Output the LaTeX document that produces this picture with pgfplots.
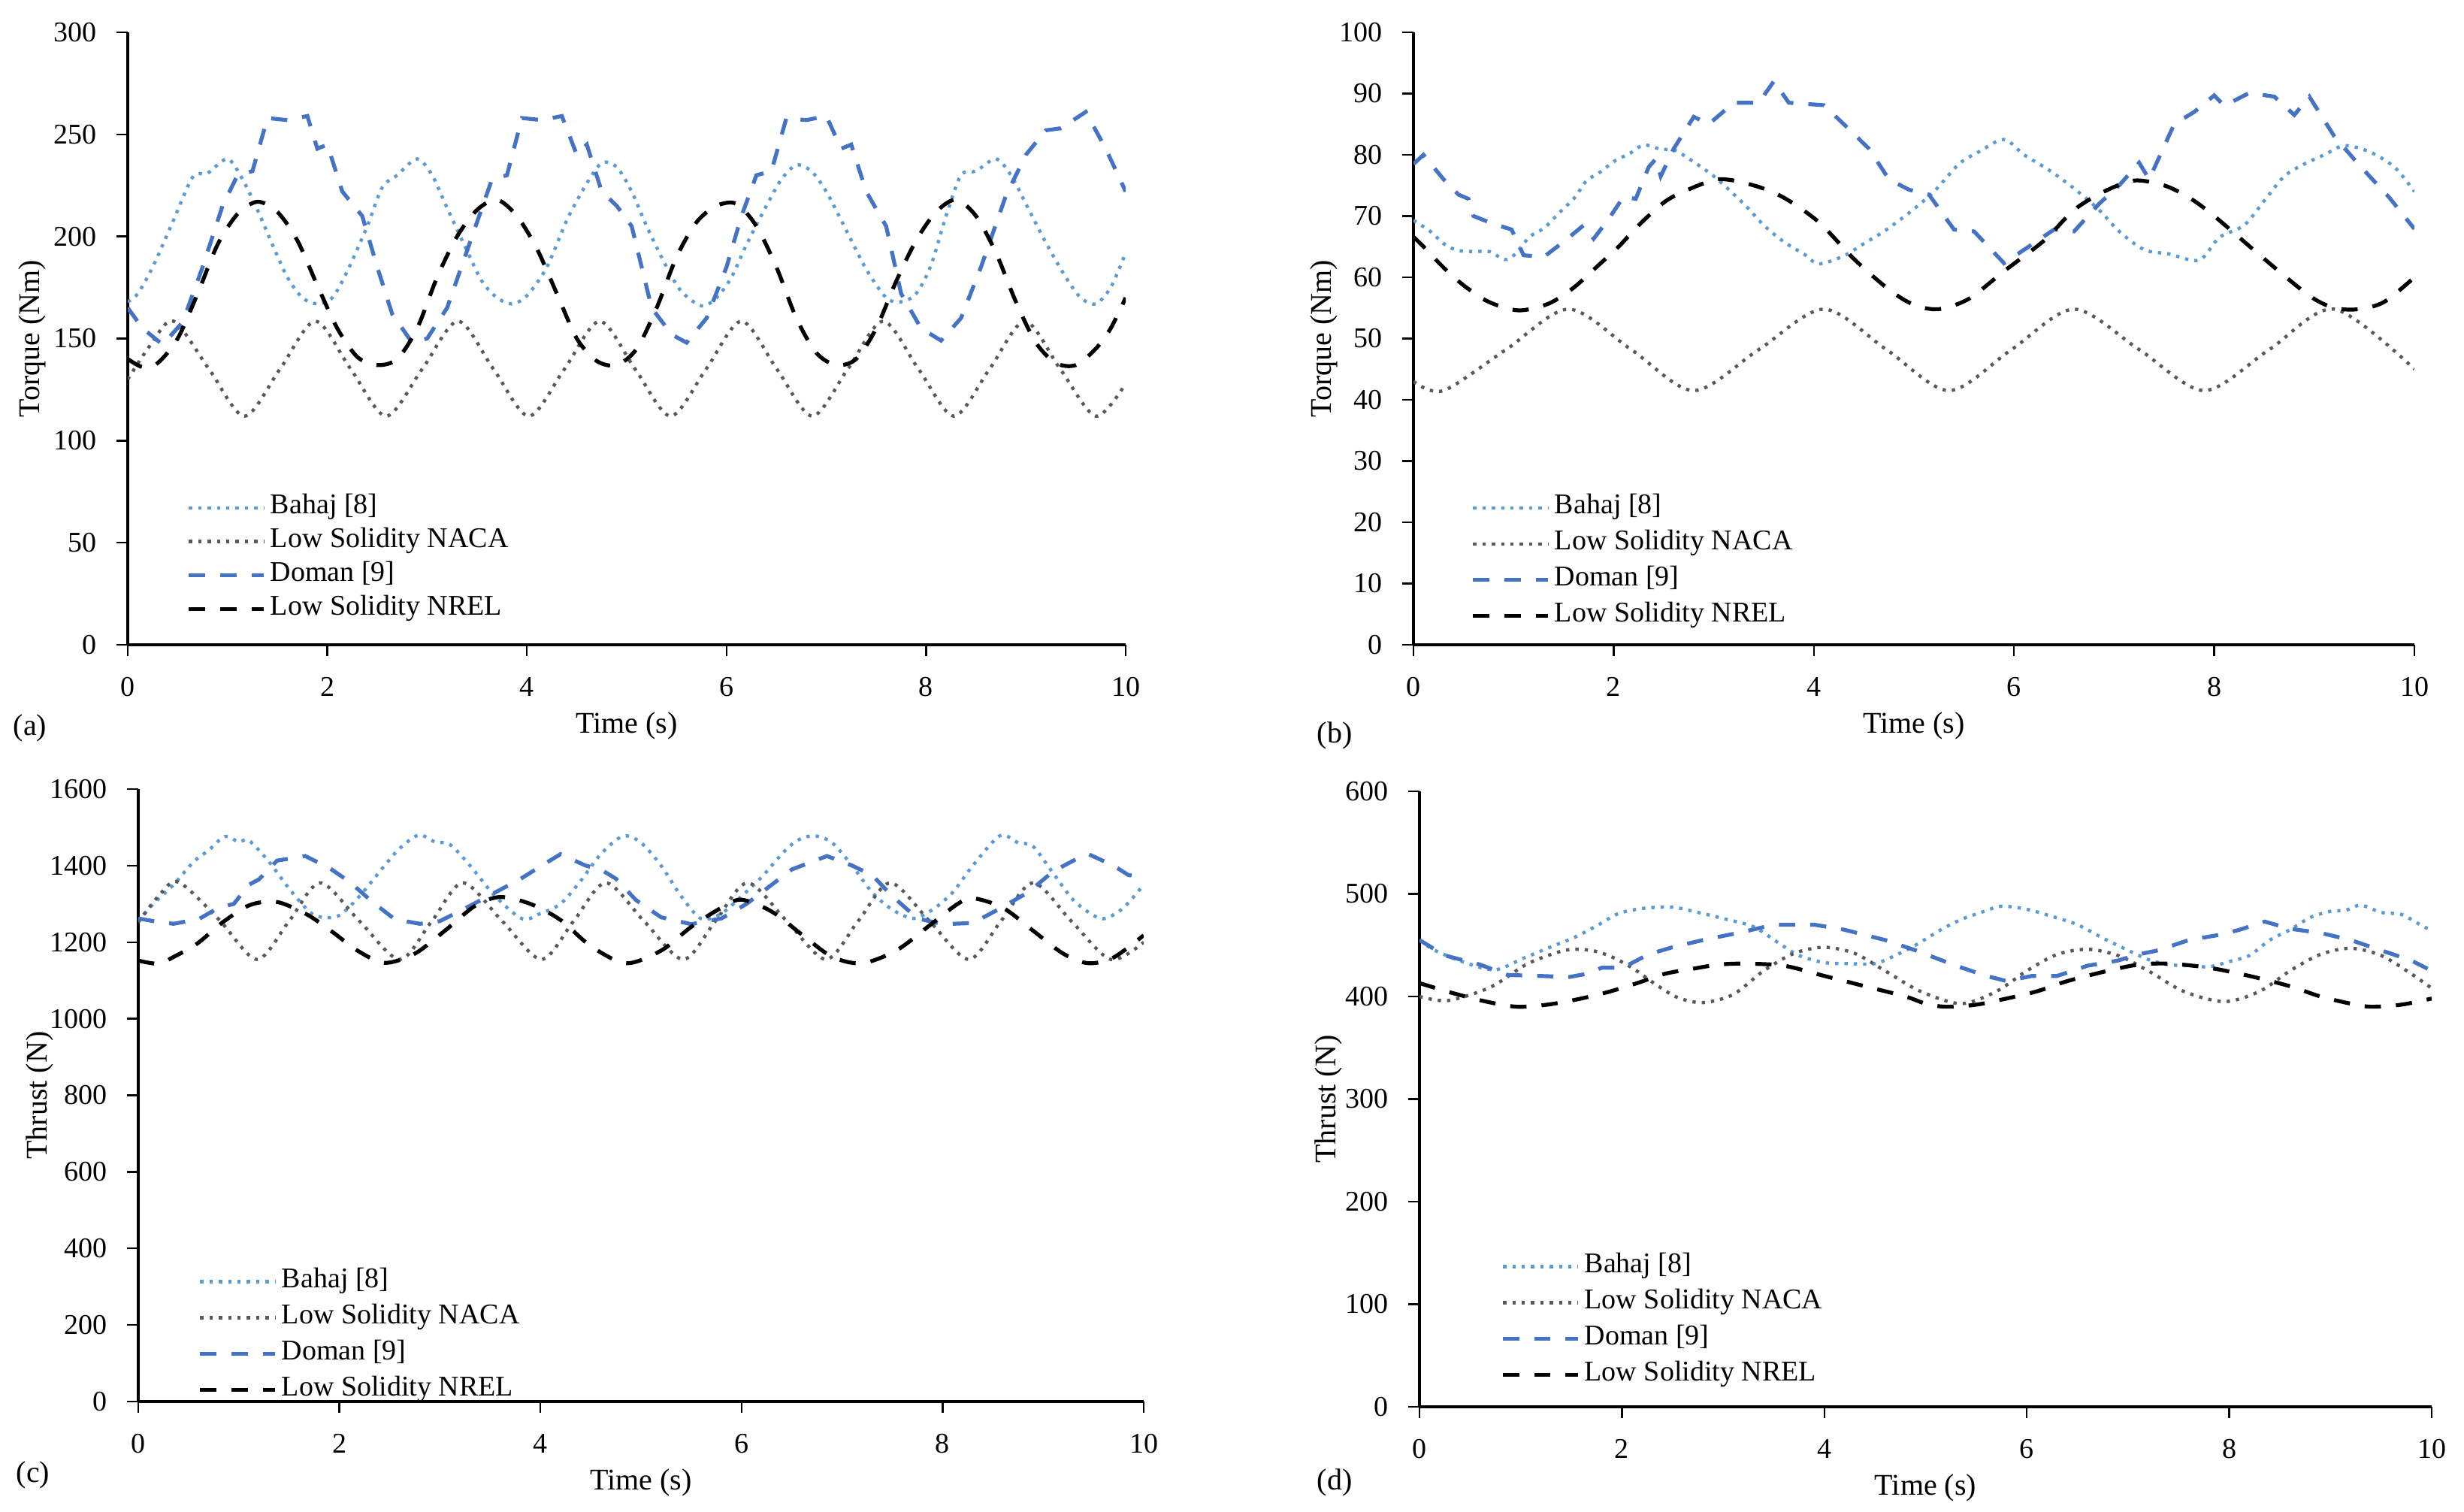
\documentclass[border=0pt]{standalone}
\usepackage{fontspec}
\setmainfont{Liberation Serif}
\usepackage{pgfplots}
\pgfplotsset{compat=1.18}
\definecolor{bahaj}{RGB}{91,155,213}
\definecolor{doman}{RGB}{68,114,196}
\definecolor{naca}{RGB}{89,89,89}
\pgfplotsset{
  panel/.style={
    scale only axis, axis lines=left, axis line style={-, line width=0.8pt},
    xmin=0, xmax=10, ymin=0, xtick={0,2,...,10},
    tick align=outside, major tick length=3.75pt,
    tick style={black, line width=0.6pt},
    scaled ticks=false,
    /pgf/number format/assume math mode=true,
    /pgf/number format/1000 sep={},
    xticklabel style={font=\fontsize{9.5}{10}\selectfont, yshift=-3.5pt},
    yticklabel style={font=\fontsize{9.5}{10}\selectfont, xshift=-3pt},
    xlabel={Time (s)},
    label style={font=\fontsize{10}{12}\selectfont},
    xlabel style={at={(axis description cs:0.5,0)}, anchor=center, yshift=-27pt},
    legend cell align=left,
    legend style={draw=none, fill=none, inner sep=0pt, anchor=north west,
      font=\fontsize{9.5}{10}\selectfont,
      nodes={inner xsep=1.5pt, inner ysep=1.5pt, text height=6.5pt, text depth=2.5pt},
      row sep=0pt},
    legend image code/.code={\draw[#1] (0pt,0pt) -- (25pt,0pt);},
  },
  bah/.style={color=bahaj, line width=1.1pt, dash pattern=on 1.1pt off 2pt, smooth, tension=0.5},
  nac/.style={color=naca, line width=1.1pt, dash pattern=on 1.1pt off 2pt, smooth, tension=0.5},
  dom/.style={color=doman, line width=1.3pt, dash pattern=on 5.4pt off 5pt},
  nre/.style={color=black, line width=1.3pt, dash pattern=on 5.4pt off 5pt, smooth, tension=0.5},
}
\begin{document}
\begin{tikzpicture}
\path (0,0) rectangle (819.75pt,502.25pt);
\node[font=\fontsize{10}{12}\selectfont] at (10pt,260pt) {(a)};
\node[font=\fontsize{10}{12}\selectfont] at (444pt,257.5pt) {(b)};
\node[font=\fontsize{10}{12}\selectfont] at (11pt,11.5pt) {(c)};
\node[font=\fontsize{10}{12}\selectfont] at (444pt,9pt) {(d)};

% ---------------- (a)
\begin{axis}[panel, at={(42.5pt,287.75pt)}, anchor=south west,
  width=332pt, height=203.75pt, ymax=300, ytick distance=50,
  ylabel={Torque (Nm)},
  ylabel style={at={(axis description cs:-0.0956,0.5)}, anchor=center},
  legend style={at={(0.0587,0.252)}, nodes={inner ysep=1.1pt}}]
\addplot[bah] coordinates {(0,168) (0.1,172) (0.25,185) (0.45,207) (0.65,229) (0.8,231) (1.0,238) (1.15,228) (1.3,213) (1.45,196) (1.6,180) (1.75,170) (1.9,167) (2.05,170) (2.2,183) (2.4,205) (2.55,224) (2.7,230) (2.9,238) (3.05,230) (3.2,214) (3.4,193) (3.55,178) (3.7,170) (3.85,167) (4.0,171) (4.2,185) (4.4,208) (4.6,226) (4.75,236) (4.9,234) (5.05,222) (5.2,205) (5.4,185) (5.55,173) (5.75,166) (5.9,170) (6.05,180) (6.2,196) (6.4,215) (6.55,228) (6.7,235) (6.85,232) (7.0,222) (7.2,203) (7.4,184) (7.6,170) (7.75,168) (7.9,172) (8.05,186) (8.2,210) (8.35,230) (8.5,232) (8.7,238) (8.85,230) (9.0,216) (9.2,197) (9.4,180) (9.55,170) (9.7,167) (9.85,175) (10,192)};
\addlegendentry{Bahaj [8]}
\addplot[nac] coordinates {(0,130) (0.23,147) (0.46,158.5) (0.815,135) (1.17,112) (1.525,135) (1.88,158.5) (2.235,135) (2.59,112) (2.95,135) (3.31,158.5) (3.665,135) (4.02,112) (4.375,135) (4.73,158.5) (5.085,135) (5.44,112) (5.795,135) (6.15,158.5) (6.505,135) (6.86,112) (7.215,135) (7.57,158.5) (7.925,135) (8.28,112) (8.635,135) (8.99,158.5) (9.345,135) (9.7,112) (10,128)};
\addlegendentry{Low Solidity NACA}
\addplot[dom] coordinates {(0,165) (0.15,155) (0.35,147) (0.55,158) (0.75,185) (0.95,215) (1.1,230) (1.25,232) (1.4,258) (1.6,257) (1.8,259) (1.9,243) (2.0,245) (2.15,222) (2.35,210) (2.5,185) (2.65,162) (2.85,148) (3.0,150) (3.2,165) (3.45,200) (3.65,228) (3.8,230) (3.95,258) (4.15,257) (4.35,259) (4.5,240) (4.6,245) (4.75,222) (4.9,215) (5.05,205) (5.25,165) (5.45,152) (5.6,148) (5.8,160) (6.0,185) (6.15,210) (6.3,230) (6.45,232) (6.6,258) (6.8,257) (7.0,259) (7.15,243) (7.25,245) (7.4,222) (7.6,205) (7.75,172) (7.95,155) (8.15,149) (8.35,160) (8.55,185) (8.8,220) (9.0,240) (9.2,252) (9.35,253) (9.6,261) (9.8,243) (10,222)};
\addlegendentry{Doman [9]}
\addplot[nre] coordinates {(0,140) (0.15,136) (0.3,138) (0.5,150) (0.7,172) (0.9,196) (1.1,211) (1.3,217) (1.5,212) (1.7,198) (1.9,176) (2.1,155) (2.3,141) (2.5,137) (2.7,140) (2.9,155) (3.1,180) (3.3,200) (3.5,213) (3.7,218) (3.9,210) (4.1,194) (4.3,172) (4.5,150) (4.7,139) (4.9,137) (5.1,145) (5.3,165) (5.5,190) (5.7,207) (5.9,215) (6.1,216) (6.3,205) (6.5,185) (6.7,160) (6.9,143) (7.1,137) (7.3,140) (7.5,155) (7.7,178) (7.9,198) (8.1,212) (8.3,218) (8.5,210) (8.7,192) (8.9,168) (9.1,148) (9.3,138) (9.5,137) (9.7,145) (9.85,155) (10,170)};
\addlegendentry{Low Solidity NREL}
\end{axis}

% ---------------- (b)
\begin{axis}[panel, at={(470.25pt,287.75pt)}, anchor=south west,
  width=333pt, height=203.75pt, ymax=100, ytick distance=10,
  ylabel={Torque (Nm)},
  ylabel style={at={(axis description cs:-0.0894,0.5)}, anchor=center},
  legend style={at={(0.057,0.254)}}]
\addplot[bah] coordinates {(0,69.3) (0.16,67.6) (0.31,65.4) (0.44,64.4) (0.61,64.2) (0.76,64.2) (0.91,62.9) (1.01,63.7) (1.16,66.6) (1.31,68.1) (1.46,70.6) (1.61,73) (1.73,75.8) (1.85,77) (2.02,79.1) (2.15,80.1) (2.3,81.6) (2.47,80.9) (2.6,80.8) (2.72,79.7) (3.0,76.5) (3.3,72) (3.5,68.5) (3.7,65.8) (3.9,63.8) (4.05,62.2) (4.3,63.5) (4.5,65.5) (4.7,67.5) (4.95,70.5) (5.2,74) (5.45,78.5) (5.65,80.5) (5.9,82.5) (6.1,80) (6.35,77.5) (6.6,74.5) (6.85,71) (7.05,67.5) (7.3,64.5) (7.55,63.8) (7.85,62.8) (8.05,66.5) (8.3,68.5) (8.5,72.5) (8.7,76.5) (8.9,78.5) (9.1,80) (9.3,81.5) (9.55,80.5) (9.8,78) (10,74)};
\addlegendentry{Bahaj [8]}
\addplot[nac] coordinates {(0,43) (0.3,41.5) (0.925,48.2) (1.55,54.8) (2.175,48.2) (2.8,41.5) (3.45,48.2) (4.1,54.8) (4.725,48.2) (5.35,41.5) (5.975,48.2) (6.6,54.8) (7.25,48.2) (7.9,41.5) (8.55,48.2) (9.2,54.8) (10,45)};
\addlegendentry{Low Solidity NACA}
\addplot[dom] coordinates {(0,78.5) (0.1,80) (0.3,76) (0.45,73.5) (0.55,72.8) (0.6,70) (0.8,68.7) (0.98,67.8) (1.1,63.6) (1.3,63.3) (1.5,65.8) (1.7,68.5) (1.8,66.3) (1.95,69.5) (2.1,73.2) (2.22,72.8) (2.35,78) (2.42,79.3) (2.47,76.5) (2.6,81) (2.8,86.2) (2.95,85) (3.2,88.5) (3.45,88.5) (3.6,92) (3.75,88.5) (4.1,88.1) (4.35,84.2) (4.55,81) (4.75,76) (4.95,74.3) (5.15,73.5) (5.4,67.8) (5.6,67.5) (5.9,62.3) (6.1,64.5) (6.4,67.8) (6.6,67.5) (6.85,72) (7.05,75) (7.25,78.7) (7.35,76) (7.6,85) (7.8,87) (8.0,89.7) (8.1,88) (8.35,90.1) (8.6,89.5) (8.8,86.5) (8.95,89.5) (9.2,83) (9.45,78.3) (9.75,73) (10,67.9)};
\addlegendentry{Doman [9]}
\addplot[nre] coordinates {(0,66.6) (0.1,65) (0.3,61.6) (0.5,58.7) (0.75,56) (1.05,54.6) (1.35,55.7) (1.6,58.3) (1.85,62) (2.05,65) (2.25,68.5) (2.5,72.2) (2.7,74) (3.05,76) (3.4,75) (3.7,73) (4.05,69) (4.4,63) (4.75,58) (5.0,55.5) (5.25,54.8) (5.55,56.5) (5.9,61) (6.3,66) (6.6,71) (6.9,74) (7.2,75.8) (7.5,75) (7.75,73) (8.0,70) (8.5,63) (8.95,57) (9.2,55) (9.45,54.8) (9.7,56) (10,60)};
\addlegendentry{Low Solidity NREL}
\end{axis}

% ---------------- (c)
\begin{axis}[panel, at={(46pt,36pt)}, anchor=south west,
  width=334.5pt, height=203.75pt, ymax=1600, ytick distance=200,
  ylabel={Thrust (N)},
  ylabel style={at={(axis description cs:-0.098,0.5)}, anchor=center},
  legend style={at={(0.059,0.226)}}]
\addplot[bah] coordinates {(0,1255) (0.15,1300) (0.35,1350) (0.55,1410) (0.7,1440) (0.86,1476) (1.0,1462) (1.1,1466) (1.3,1410) (1.5,1340) (1.7,1280) (1.83,1265) (2.0,1270) (2.2,1320) (2.45,1400) (2.6,1445) (2.79,1480) (2.95,1462) (3.1,1455) (3.3,1400) (3.55,1320) (3.82,1261) (4.0,1275) (4.2,1300) (4.4,1360) (4.6,1430) (4.82,1477) (5.0,1460) (5.2,1400) (5.4,1320) (5.6,1261) (5.8,1275) (6.0,1320) (6.2,1370) (6.4,1430) (6.55,1465) (6.72,1478) (6.9,1460) (7.1,1400) (7.3,1330) (7.5,1285) (7.71,1262) (7.9,1285) (8.1,1330) (8.3,1400) (8.57,1478) (8.75,1460) (8.9,1450) (9.1,1380) (9.3,1310) (9.5,1270) (9.62,1262) (9.8,1290) (10,1350)};
\addlegendentry{Bahaj [8]}
\addplot[nac] coordinates {(0,1252) (0.2,1320) (0.4,1357) (0.8,1260) (1.18,1155) (1.5,1255) (1.81,1355) (2.2,1255) (2.6,1155) (2.92,1255) (3.23,1355) (3.62,1255) (4.01,1155) (4.33,1255) (4.65,1355) (5.03,1255) (5.42,1155) (5.74,1255) (6.06,1355) (6.45,1255) (6.84,1155) (7.16,1255) (7.48,1355) (7.87,1255) (8.26,1155) (8.58,1255) (8.9,1355) (9.28,1255) (9.67,1155) (10,1200)};
\addlegendentry{Low Solidity NACA}
\addplot[dom] coordinates {(0,1262) (0.15,1255) (0.35,1248) (0.6,1260) (0.8,1290) (0.95,1300) (1.1,1350) (1.2,1364) (1.38,1413) (1.66,1425) (1.9,1394) (2.1,1358) (2.33,1305) (2.55,1260) (2.8,1248) (3.0,1255) (3.3,1295) (3.55,1330) (3.8,1365) (4.0,1398) (4.2,1430) (4.45,1400) (4.6,1390) (4.75,1366) (4.95,1310) (5.2,1265) (5.5,1247) (5.8,1262) (6.05,1300) (6.3,1350) (6.5,1390) (6.7,1410) (6.85,1425) (7.1,1400) (7.3,1375) (7.5,1320) (7.75,1262) (8.0,1247) (8.3,1250) (8.55,1285) (8.85,1330) (9.1,1385) (9.35,1420) (9.45,1430) (9.7,1400) (9.85,1375) (10,1372)};
\addlegendentry{Doman [9]}
\addplot[nre] coordinates {(0,1152) (0.2,1144) (0.37,1164) (0.59,1197) (0.84,1252) (1.11,1297) (1.38,1305) (1.68,1272) (1.93,1227) (2.18,1178) (2.45,1146) (2.75,1170) (3.05,1230) (3.35,1295) (3.6,1318) (3.9,1300) (4.2,1258) (4.5,1190) (4.85,1145) (5.2,1178) (5.5,1240) (5.8,1290) (6.0,1311) (6.3,1280) (6.6,1220) (6.9,1162) (7.2,1145) (7.55,1180) (7.9,1250) (8.15,1300) (8.3,1315) (8.6,1290) (8.9,1230) (9.2,1170) (9.45,1145) (9.7,1160) (10,1218)};
\addlegendentry{Low Solidity NREL}
\end{axis}

% ---------------- (d)
\begin{axis}[panel, at={(472.25pt,34.25pt)}, anchor=south west,
  width=336.75pt, height=204.75pt, ymax=600, ytick distance=100,
  ylabel={Thrust (N)},
  ylabel style={at={(axis description cs:-0.09,0.5)}, anchor=center},
  legend style={at={(0.080,0.258)}}]
\addplot[bah] coordinates {(0,455) (0.15,445) (0.48,432) (0.75,426) (1.02,437) (1.29,448) (1.54,458) (1.77,470) (1.97,481) (2.22,486) (2.5,487) (2.75,482) (3.0,476) (3.3,468) (3.55,452) (3.75,440) (4.0,433) (4.25,432) (4.5,432) (4.7,440) (4.9,450) (5.15,465) (5.35,475) (5.55,482) (5.75,488) (6.0,485) (6.25,478) (6.5,470) (6.75,457) (7.0,445) (7.2,436) (7.4,431) (7.6,430) (7.8,429) (8.0,434) (8.2,440) (8.4,455) (8.6,465) (8.8,477) (9.0,483) (9.15,484) (9.3,489) (9.5,482) (9.7,480) (9.85,472) (10,464)};
\addlegendentry{Bahaj [8]}
\addplot[nac] coordinates {(0,400) (0.28,396) (0.7,409) (1.07,432) (1.44,445) (1.69,445) (1.89,439) (2.1,428) (2.33,412) (2.55,399) (2.8,394) (3.1,402) (3.4,425) (3.7,442) (4.0,448) (4.3,442) (4.6,425) (4.95,405) (5.35,393) (5.7,405) (6.0,425) (6.3,441) (6.6,446) (6.9,440) (7.2,425) (7.55,405) (7.95,395) (8.3,405) (8.6,425) (8.9,441) (9.2,447) (9.5,440) (9.8,422) (10,408)};
\addlegendentry{Low Solidity NACA}
\addplot[dom] coordinates {(0,455) (0.25,440) (0.6,431) (0.87,421) (1.19,420) (1.48,419) (1.65,422) (1.8,428) (2.01,428) (2.26,441) (2.5,448) (2.8,455) (3.2,463) (3.5,470) (3.9,470) (4.2,465) (4.6,455) (4.9,445) (5.3,430) (5.6,420) (5.8,415) (6.05,420) (6.3,420) (6.6,430) (6.9,435) (7.1,441) (7.3,445) (7.6,455) (7.9,460) (8.1,465) (8.35,473) (8.6,466) (8.9,462) (9.2,455) (9.5,445) (9.8,435) (10,425)};
\addlegendentry{Doman [9]}
\addplot[nre] coordinates {(0,413) (0.34,403) (0.66,395) (0.96,390) (1.26,392) (1.55,397) (1.85,404) (2.15,413) (2.42,422) (2.7,427) (2.95,431) (3.2,432) (3.6,430) (4.0,420) (4.4,410) (4.8,400) (5.0,393) (5.2,390) (5.5,392) (5.8,398) (6.1,405) (6.4,415) (6.8,425) (7.1,431) (7.4,432) (7.8,428) (8.2,420) (8.6,410) (8.9,400) (9.2,393) (9.4,390) (9.7,392) (10,398)};
\addlegendentry{Low Solidity NREL}
\end{axis}
\end{tikzpicture}
\end{document}
